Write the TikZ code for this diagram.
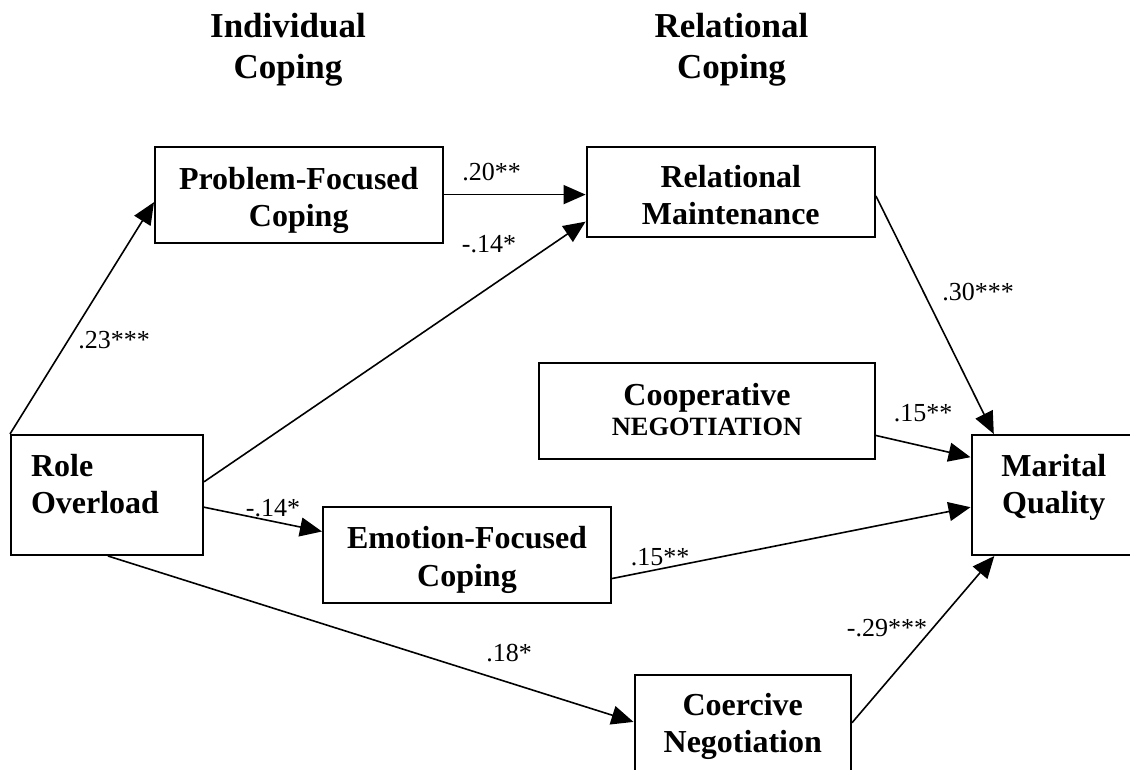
\documentclass[tikz,border=0pt]{standalone}
\usepackage{fontspec}
\setmainfont{Liberation Serif}
\usetikzlibrary{arrows.meta,calc}
\newcommand{\stk}[2][c]{\begin{tabular}[b]{@{}#1@{}}#2\end{tabular}}
\tikzset{
  box/.style={draw, line width=2pt, inner sep=0pt, text depth=0pt,
    font=\bfseries\fontsize{32}{37.5}\selectfont},
  head/.style={font=\bfseries\fontsize{35}{41.5}\selectfont, inner sep=0pt, anchor=base},
  coef/.style={font=\fontsize{26}{30}\selectfont, inner sep=0pt},
  conn/.style={-{Triangle[length=22pt,width=19pt]}, line width=1.6pt},
}
\begin{document}
\begin{tikzpicture}[x=1pt, y=-1pt]
\useasboundingbox (0,0) rectangle (1130,769);
\fill[white] (0,0) rectangle (1130,769);

% headings
\node[head] (hind) at (288,78.5) {\stk{Individual\\Coping}};
\node[head] (hrel) at (731.5,78.5) {\stk{Relational\\Coping}};

% boxes
\node[box, minimum width=287.5pt, minimum height=96pt, text height=63.8pt]
  (pf) at (298.75,194.6) {\stk{Problem-Focused\\Coping}};
\node[box, minimum width=288.4pt, minimum height=90.4pt, text height=65.6pt]
  (rm) at (730.8,191.8) {\stk{Relational\\Maintenance}};
\node[box, minimum width=336pt, minimum height=96pt, text height=49pt]
  (coop) at (707,411) {\stk{Cooperative\\[-7.5pt]{\fontsize{26.4}{30}\selectfont NEGOTIATION}}};
\node[box, minimum width=192pt, minimum height=120pt, text width=152pt, text height=37pt]
  (ro) at (107,495) {\stk[l]{Role\\Overload}};
\node[box, minimum width=164.5pt, minimum height=120pt, text height=37pt]
  (mq) at (1053.75,495) {\stk{Marital\\Quality}};
\node[box, minimum width=288pt, minimum height=96pt, text height=62pt]
  (ef) at (467,555) {\stk{Emotion-Focused\\Coping}};
\node[box, minimum width=216.5pt, minimum height=104pt, text height=51.6pt]
  (cn) at (742.75,727) {\stk{Coercive\\Negotiation}};

% connectors
\draw[conn] (ro.north west) -- ($(pf.north west)!0.577!(pf.south west)$);
\draw[conn] (pf.east) -- (pf.east -| rm.west);
\draw[conn] ($(ro.north east)!0.392!(ro.south east)$) -- ($(rm.north west)!0.823!(rm.south west)$);
\draw[conn] ($(rm.north east)!0.546!(rm.south east)$) -- ($(mq.north west)!0.14!(mq.north east)$);
\draw[conn] ($(coop.north east)!0.75!(coop.south east)$) -- ($(mq.north west)!0.19!(mq.south west)$);
\draw[conn] ($(ro.north east)!0.6!(ro.south east)$) -- ($(ef.north west)!0.26!(ef.south west)$);
\draw[conn] ($(ef.north east)!0.74!(ef.south east)$) -- ($(mq.north west)!0.6!(mq.south west)$);
\draw[conn] ($(ro.south west)!0.505!(ro.south east)$) -- ($(cn.north west)!0.452!(cn.south west)$);
\draw[conn] ($(cn.north east)!0.46!(cn.south east)$) -- ($(mq.south west)!0.143!(mq.south east)$);

% coefficients
\node[coef] (c1) at (491.5,172.5) {.20**};
\node[coef] (c2) at (489,244.5) {-.14*};
\node[coef] (c3) at (114,340) {.23***};
\node[coef] (c4) at (978,292) {.30***};
\node[coef] (c5) at (923,413) {.15**};
\node[coef] (c6) at (273,508.5) {-.14*};
\node[coef] (c7) at (660,557) {.15**};
\node[coef] (c8) at (509,653) {.18*};
\node[coef] (c9) at (887,628.5) {-.29***};
\end{tikzpicture}
\end{document}
